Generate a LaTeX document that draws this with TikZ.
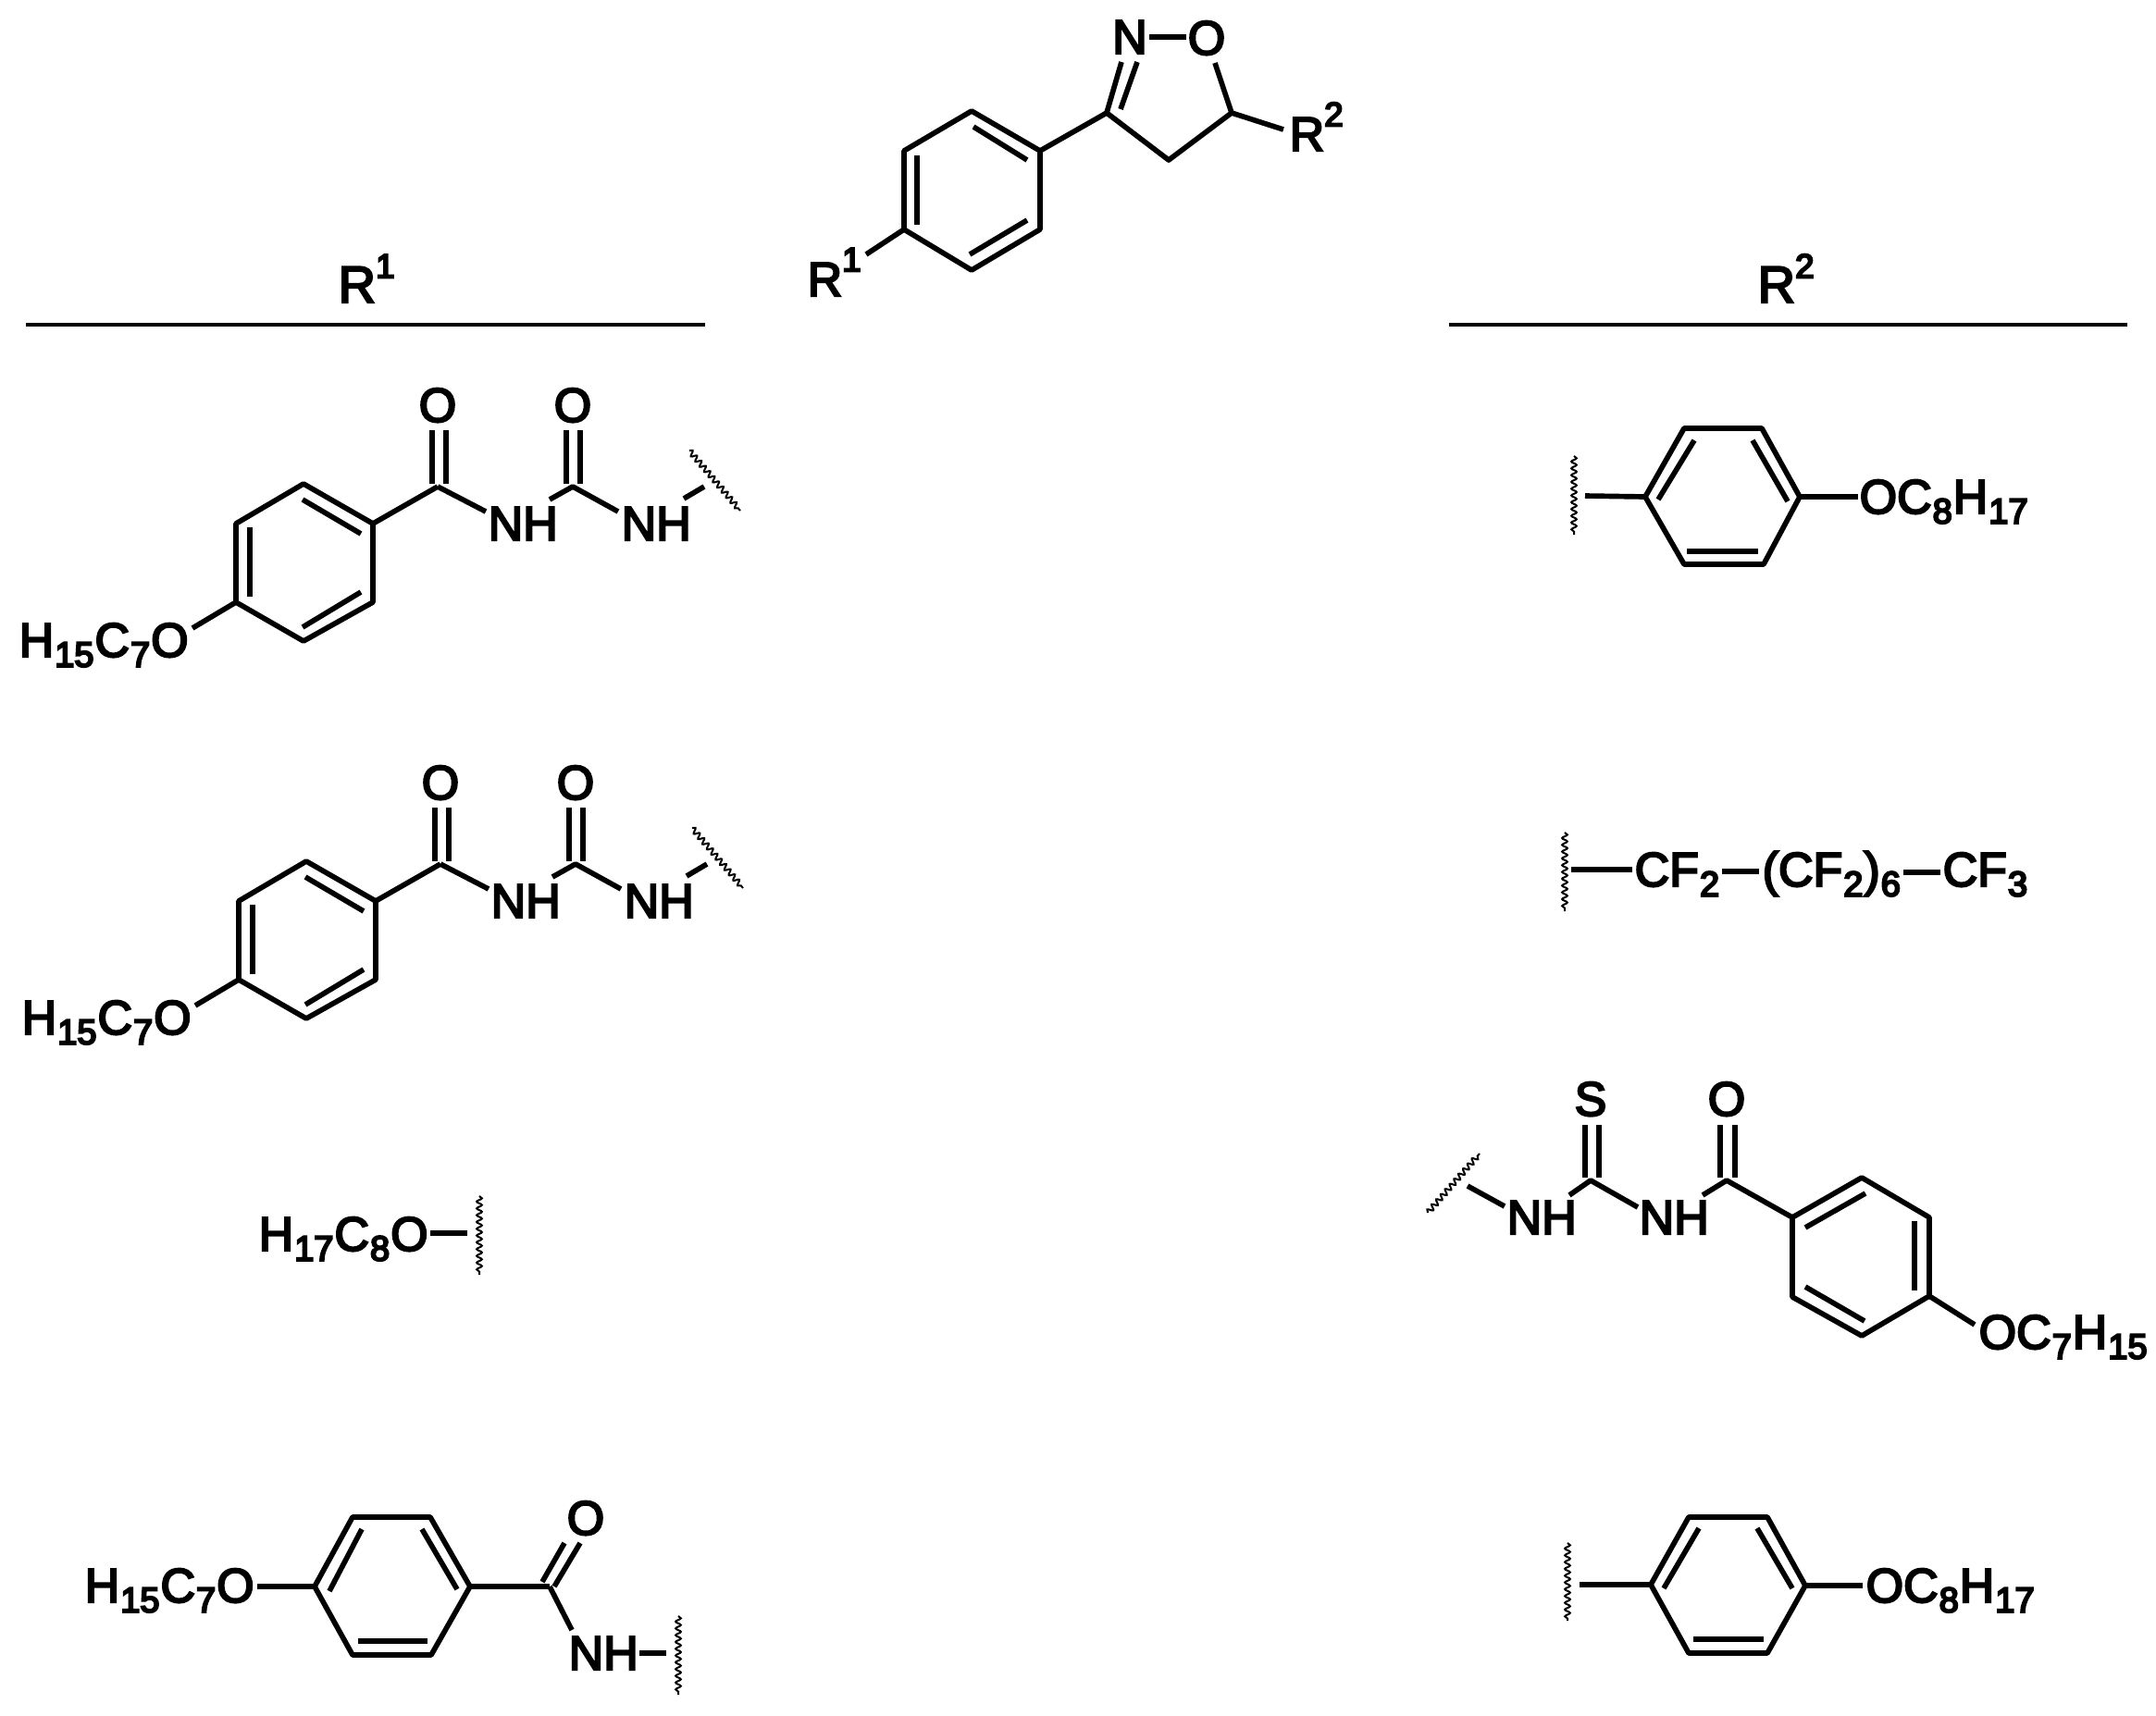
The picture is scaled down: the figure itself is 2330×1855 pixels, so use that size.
\documentclass[tikz,border=0pt]{standalone}
\usepackage{fontspec}
\usetikzlibrary{decorations.pathmorphing}
\newfontfamily\chemfont{Liberation Sans}
\newcommand{\Sb}[1]{\kern.3pt\raisebox{-3.2pt}{\fontsize{11.4}{12}\selectfont #1}\kern.3pt}
\newcommand{\Sp}[1]{\raisebox{8pt}{\fontsize{11}{12}\selectfont #1}}
\newcommand{\Pts}[1]{\foreach \n/\px/\py in {#1} {\coordinate (\n) at (\px,\py);}}
\newcommand{\Bz}[4]{\draw[bond] (#1a)--(#1b)--(#1c)--(#1d)--(#1e)--(#1f)--cycle;
  \draw[bond] (#1g)--(#1h); \draw[bond] (#1i)--(#1j); \draw[bond] (#1k)--(#1l);}
\tikzset{
  bond/.style={line width=1.7pt,line cap=butt,line join=round,black},
  rulebar/.style={line width=1pt,black},
  wavy/.style={line width=.6pt,black,decorate,decoration={snake,amplitude=.85pt,segment length=2.2pt}},
  lab/.style={inner sep=0pt,anchor=base west,font=\chemfont\fontsize{15.6}{18}\selectfont,
    execute at begin node={\special{pdf:code 2 Tr 0.65 w}}},
  atomlab/.style={lab,anchor=base},
  head/.style={lab,font=\chemfont\fontsize{16.8}{18}\selectfont}
}
\newcommand{\Acyl}{%
  \Pts{ra/328/523,rb/403/566,rc/403/651,rd/328/693,re/255/651,rf/255/566,
       rg/327/540,rh/390/577,ri/270/570,rj/270/645,rk/327/678,rl/390/640,
       ca/473/526,cb/619/526,oe/208/679,
       pa/467/465,pb/467/523,pc/482/465,pd/482/523,
       qa/612/465,qb/612/523,qc/627/465,qd/627/523,
       n1a/525/553,n1b/594/540,n2a/668/553,n2b/739/539,wb/761/526,wa/745/487,wc/800/552}
  \Bz{r}{}{}{}
  \draw[bond] (rb)--(ca);
  \draw[bond] (pa)--(pb); \draw[bond] (pc)--(pd);
  \draw[bond] (qa)--(qb); \draw[bond] (qc)--(qd);
  \draw[bond] (ca)--(n1a); \draw[bond] (n1b)--(cb)--(n2a);
  \draw[bond] (n2b)--(wb);
  \draw[bond] (re)--(oe);
  \draw[wavy] (wa)--(wc);
  \node[atomlab] (ob1) at (473,456) {O};
  \node[atomlab] (ob2) at (619,456) {O};
  \node[lab] (nh1) at (527,584) {NH};
  \node[lab] (nh2) at (671,584) {NH};
  \node[lab] (tail) at (20,710) {H\Sb{15}C\Sb{7}O};
}
\begin{document}
\begin{tikzpicture}[x=0.3pt,y=-0.3pt]
\useasboundingbox (0,0) rectangle (2330,1855);
\Pts{ra/1050/120,rb/1124/163,rc/1124/248,rd/1050/292,re/977/248,rf/977/163,
     rg/1052/137,rh/1110/173,ri/991/168,rj/991/243,rk/1048/275,rl/1110/238,
     c3/1196/122,c4/1263/173,c5/1331/122,
     da/1212/67,db/1211/118,dc/1229/67,no1/1242/40,no2/1282/40,oc/1313/68,
     r2e/1387/140,r1e/936/275}
\Bz{r}{}{}{}
\draw[bond] (rb)--(c3)--(c4)--(c5)--(oc);
\draw[bond] (c3)--(da); \draw[bond] (db)--(dc);
\draw[bond] (no1)--(no2);
\draw[bond] (c5)--(r2e);
\draw[bond] (re)--(r1e);
\node[atomlab] (coreN) at (1221,58) {N};
\node[atomlab] (coreO) at (1304,59) {O};
\node[lab] (coreR2) at (1393,163) {R\Sp{2}};
\node[lab] (coreR1) at (872,320) {R\Sp{1}};
\Pts{hla/28/351,hlb/762/351,hra/1566/351,hrb/2299/351}
\draw[rulebar] (hla)--(hlb);
\draw[rulebar] (hra)--(hrb);
\node[head] (headL) at (365,327) {R\Sp{1}};
\node[head] (headR) at (1899,327) {R\Sp{2}};
\begin{scope}[name prefix=s1-]\Acyl\end{scope}
\begin{scope}[shift={(3,408)},name prefix=s2-]\Acyl\end{scope}
\Pts{t3a/465/1333,t3b/505/1333,t3c/518/1293,t3d/518/1378}
\node[lab] (t3) at (279,1352) {H\Sb{17}C\Sb{8}O};
\draw[bond] (t3a)--(t3b);
\draw[wavy] (t3c)--(t3d);
\Pts{ua/340/1715,ub/381/1640,uc/465/1640,ud/508/1715,ue/466/1789,uf/381/1789,
     ug/356/1720,uh/391/1653,ui/456/1653,uj/494/1718,uk/387/1774,ul/462/1774,
     ao/278/1715,ac/594/1715,ad/586/1710,ae/610/1668,af/599/1715,ag/627/1668,
     ah/618/1762,ai/691/1787,aj/720/1787,ak/733/1747,al/733/1832}
\Bz{u}{}{}{}
\draw[bond] (ao)--(ua);
\draw[bond] (ud)--(ac);
\draw[bond] (ad)--(ae); \draw[bond] (af)--(ag);
\draw[bond] (ac)--(ah);
\draw[bond] (ai)--(aj);
\draw[wavy] (ak)--(al);
\node[lab] (am1) at (91,1732) {H\Sb{15}C\Sb{7}O};
\node[atomlab] (am2) at (633,1659) {O};
\node[lab] (am3) at (614,1805) {NH};
\Pts{va/1778/537,vb/1820/463,vc/1904/463,vd/1945/537,ve/1906/610,vf/1820/610,
     vg/1792/540,vh/1831/476,vi/1894/476,vj/1932/542,vk/1823/596,vl/1900/596,
     va1/1713/536,va2/2008/537,va3/1701/493,va4/1701/578}
\Bz{v}{}{}{}
\draw[bond] (va1)--(va);
\draw[bond] (vd)--(va2);
\draw[wavy] (va3)--(va4);
\node[lab] (v1) at (2009,555) {OC\Sb{8}H\Sb{17}};
\Pts{fa/1691/900,fb/1691/985,fc/1698/940,fd/1764/940,fe/1861/942,ff/1901/942,fg/2057/943,fh/2097/943}
\draw[wavy] (fa)--(fb);
\draw[bond] (fc)--(fd);
\draw[bond] (fe)--(ff);
\draw[bond] (fg)--(fh);
\node[lab] (f1) at (1766,958) {CF\Sb{2}};
\node[lab] (f2) at (1904,958) {(CF\Sb{2})\Sb{6}};
\node[lab] (f3) at (2099,958) {CF\Sb{3}};
\Pts{xa/2012/1273,xb/2085/1316,xc/2085/1401,xd/2012/1444,xe/1937/1402,xf/1937/1316,
     xg/1951/1327,xh/2016/1290,xi/2069/1320,xj/2069/1395,xk/1951/1391,xl/2015/1428,
     w1/1543/1311,w2/1599/1247,b1/1586/1282,b2/1626/1304,b3/1696/1292,cs/1719/1276,b4/1770/1305,
     b5/1840/1292,co/1866/1276,b6/2134/1432,
     sa/1713/1216,sb/1713/1273,sc/1728/1216,sd/1728/1273,
     oa/1859/1216,ob/1859/1273,oc2/1875/1216,od/1875/1273}
\Bz{x}{}{}{}
\draw[wavy] (w1)--(w2);
\draw[bond] (b1)--(b2);
\draw[bond] (b3)--(cs)--(b4);
\draw[bond] (b5)--(co)--(xf);
\draw[bond] (sa)--(sb); \draw[bond] (sc)--(sd);
\draw[bond] (oa)--(ob); \draw[bond] (oc2)--(od);
\draw[bond] (xc)--(b6);
\node[atomlab] (ts) at (1719,1206) {S};
\node[atomlab] (to) at (1866,1206) {O};
\node[lab] (tn1) at (1628,1334) {NH};
\node[lab] (tn2) at (1771,1334) {NH};
\node[lab] (tt) at (2138,1458) {OC\Sb{7}H\Sb{15}};
\Pts{ya/1784/1713,yb/1825/1640,yc/1910/1640,yd/1951/1714,ye/1910/1787,yf/1825/1787,
     yg/1798/1717,yh/1836/1652,yi/1899/1652,yj/1937/1717,yk/1830/1772,yl/1906/1772,
     y1/1707/1713,y2/2013/1714,y3/1694/1668,y4/1694/1752}
\Bz{y}{}{}{}
\draw[bond] (y1)--(ya);
\draw[bond] (yd)--(y2);
\draw[wavy] (y3)--(y4);
\node[lab] (y5) at (2016,1732) {OC\Sb{8}H\Sb{17}};
\end{tikzpicture}
\end{document}
